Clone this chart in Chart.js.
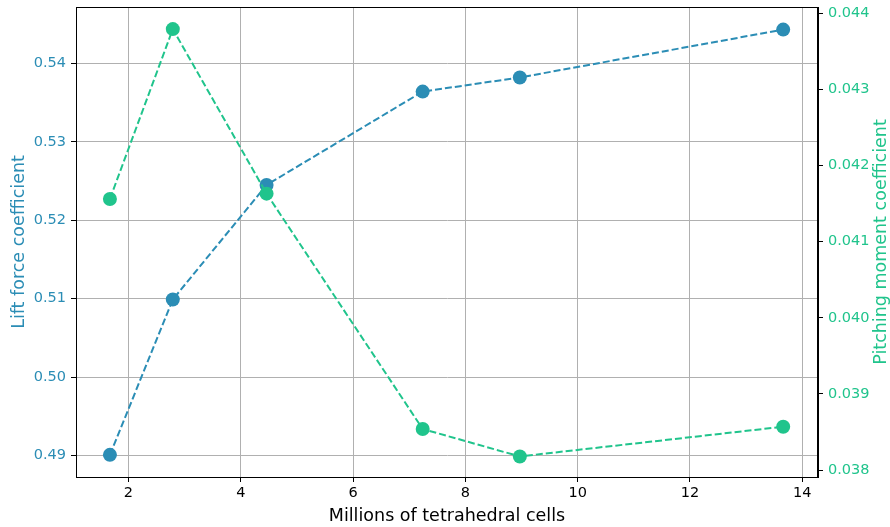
<!DOCTYPE html>
<html>
<head>
<meta charset="utf-8">
<script src="https://cdn.jsdelivr.net/npm/chart.js@4.4.1/dist/chart.umd.min.js"></script>
<style>
  html, body { margin: 0; padding: 0; background: #fff; }
  #wrap { width: 890px; height: 527px; }
</style>
</head>
<body>
<div id="wrap"><canvas id="meshChart"></canvas></div>
<script>
// ===== DATA =====
const cellsMillions = [1.67, 2.79, 4.46, 7.24, 8.97, 13.66];
const liftValues = [0.4901, 0.5099, 0.5245, 0.5364, 0.5382, 0.5443];
const pitchValues = [0.04156, 0.04379, 0.04163, 0.03854, 0.03818, 0.03857];
const xTicks = [2, 4, 6, 8, 10, 12, 14];
const liftTicks = [0.49, 0.50, 0.51, 0.52, 0.53, 0.54];
const pitchTicks = [0.038, 0.039, 0.040, 0.041, 0.042, 0.043, 0.044];

const liftColor = '#2b8db5';
const pitchColor = '#20c48c';
const font = "'DejaVu Sans', sans-serif";

Chart.defaults.font.family = font;
Chart.defaults.font.size = 14;
Chart.defaults.color = '#000';

function toPoints(xs, ys) {
  return xs.map((x, i) => ({ x: x, y: ys[i] }));
}

function fixedTicks(list) {
  return function(axis) {
    axis.ticks = list.map(v => ({ value: v }));
  };
}

// fixed axis width, no extra padding for overflowing labels
function fixWidth(w) {
  return function(scale) {
    scale.width = w;
    scale.paddingTop = 0;
    scale.paddingBottom = 0;
  };
}

// frame around plot area + right label reading bottom-to-top
const framePlugin = {
  id: 'frame',
  afterDraw(chart) {
    const a = chart.chartArea;
    const ctx = chart.ctx;
    ctx.save();
    ctx.strokeStyle = '#000';
    ctx.lineWidth = 1;
    ctx.strokeRect(a.left + 0.5, a.top + 0.5, a.right - a.left - 1, a.bottom - a.top);
    ctx.translate(881, (a.top + a.bottom) / 2);
    ctx.rotate(-Math.PI / 2);
    ctx.fillStyle = pitchColor;
    ctx.font = "17.5px " + font;
    ctx.textAlign = 'center';
    ctx.textBaseline = 'middle';
    ctx.fillText('Pitching moment coefficient', 0, 0);
    ctx.restore();
  }
};

new Chart(document.getElementById('meshChart').getContext('2d'), {
  type: 'line',
  data: {
    datasets: [
      {
        label: 'Pitching moment coefficient',
        data: toPoints(cellsMillions, pitchValues),
        yAxisID: 'yPitch',
        borderColor: pitchColor,
        backgroundColor: pitchColor,
        borderWidth: 2,
        borderDash: [7, 3],
        pointRadius: 7,
        pointBorderWidth: 0,
        tension: 0,
        order: 1
      },
      {
        label: 'Lift force coefficient',
        data: toPoints(cellsMillions, liftValues),
        yAxisID: 'yLift',
        borderColor: liftColor,
        backgroundColor: liftColor,
        borderWidth: 2,
        borderDash: [7, 3],
        pointRadius: 7,
        pointBorderWidth: 0,
        tension: 0,
        order: 2
      }
    ]
  },
  options: {
    responsive: true,
    maintainAspectRatio: false,
    animation: false,
    layout: { padding: { top: 7, left: 0, right: 0, bottom: 0 } },
    plugins: {
      legend: { display: false },
      tooltip: { enabled: false }
    },
    scales: {
      x: {
        type: 'linear',
        min: 1.066,
        max: 14.28,
        afterBuildTicks: fixedTicks(xTicks),
        afterFit(scale) { scale.height = 50; },
        border: { display: true, color: '#000', width: 1 },
        grid: { color: '#b0b0b0', lineWidth: 1, tickLength: 5, tickColor: '#000' },
        ticks: { padding: 3, color: '#000', font: { size: 14.5 }, maxRotation: 0 },
        title: {
          display: true,
          text: 'Millions of tetrahedral cells',
          color: '#000',
          font: { size: 17.5 },
          padding: { top: 0, bottom: 0 }
        }
      },
      yLift: {
        type: 'linear',
        position: 'left',
        min: 0.48728,
        max: 0.54718,
        afterBuildTicks: fixedTicks(liftTicks),
        afterFit: fixWidth(76),
        border: { display: true, color: '#000', width: 1 },
        grid: { color: '#b0b0b0', lineWidth: 1, tickLength: 5, tickColor: '#000' },
        ticks: {
          padding: 5,
          color: liftColor,
          font: { size: 14.5 },
          callback: v => v.toFixed(2)
        },
        title: {
          display: true,
          text: 'Lift force coefficient',
          color: liftColor,
          font: { size: 17.5 },
          padding: { top: 9, bottom: 0 }
        }
      },
      yPitch: {
        type: 'linear',
        position: 'right',
        min: 0.03791,
        max: 0.04408,
        afterBuildTicks: fixedTicks(pitchTicks),
        afterFit: fixWidth(72),
        border: { display: true, color: '#000', width: 1 },
        grid: { drawOnChartArea: false, tickLength: 5, tickColor: '#000' },
        ticks: {
          padding: 5,
          color: pitchColor,
          font: { size: 14.5 },
          callback: v => v.toFixed(3)
        }
      }
    }
  },
  plugins: [framePlugin]
});
</script>
</body>
</html>
